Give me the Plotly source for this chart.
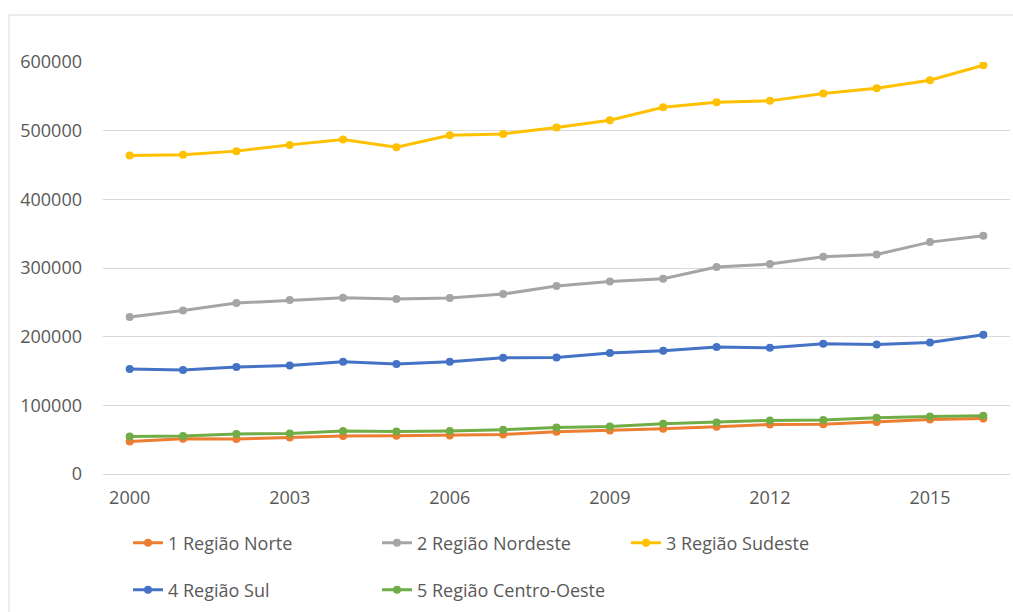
import plotly.graph_objects as go

# Anos da série
years = list(range(2000, 2017))

# Valores por região
norte = [47500, 51400, 50900, 53300, 55300, 55800, 56200, 57600, 61600, 63500,
         65900, 68900, 72200, 72500, 75700, 79500, 80900]
nordeste = [228500, 238100, 248900, 253300, 256600, 254700, 256200, 262000, 273700, 280300,
            284300, 301300, 305700, 316300, 319700, 337700, 346900]
sudeste = [463800, 464800, 470200, 479300, 487000, 476000, 493400, 495300, 504500, 515300,
           534200, 541500, 543400, 554000, 561900, 573500, 595300]
sul = [152800, 151400, 155700, 158100, 163500, 160100, 163500, 169300, 169700, 176100,
       179500, 184900, 183800, 189700, 188600, 191600, 202800]
centro_oeste = [54700, 55300, 58200, 59100, 62600, 62000, 62600, 64500, 67800, 69300,
                73200, 75100, 78000, 78600, 82000, 83800, 84900]

series_names = ["1 Região Norte", "2 Região Nordeste", "3 Região Sudeste",
                "4 Região Sul", "5 Região Centro-Oeste"]
series_values = [norte, nordeste, sudeste, sul, centro_oeste]
series_colors = ["#ED7D31", "#A5A5A5", "#FFC000", "#4472C4", "#70AD47"]
series_legend = ["legend", "legend", "legend", "legend2", "legend2"]

W, H = 1013, 612
FONT = "Open Sans"
TXT = "#595959"

fig = go.Figure()
for name, vals, col, lg in zip(series_names, series_values, series_colors, series_legend):
    fig.add_trace(go.Scatter(
        x=years, y=vals, name=name, mode="lines+markers",
        line=dict(color=col, width=3),
        marker=dict(color=col, size=8),
        legend=lg,
    ))

legend_common = dict(
    orientation="h", xref="container", yref="container",
    xanchor="left", yanchor="middle",
    entrywidth=204, entrywidthmode="pixels",
    font=dict(family=FONT, size=18, color=TXT),
    bgcolor="rgba(0,0,0,0)", itemclick=False, itemdoubleclick=False,
)

fig.update_layout(
    width=W, height=H,
    margin=dict(l=103, r=3, t=62, b=138),
    paper_bgcolor="white", plot_bgcolor="white",
    font=dict(family=FONT, color=TXT),
    showlegend=True,
    legend=dict(x=128 / W, y=1 - 543 / H, **legend_common),
    legend2=dict(x=128 / W, y=1 - 590 / H, **legend_common),
    xaxis=dict(
        range=[1999.5, 2016.5], tickmode="linear", tick0=2000, dtick=3,
        showgrid=False, zeroline=False, showline=False, ticks="",
        tickfont=dict(family=FONT, size=18, color=TXT),
        ticklabelstandoff=11,
    ),
    yaxis=dict(
        range=[0, 600000], tickmode="linear", tick0=0, dtick=100000,
        showgrid=True, gridcolor="#D9D9D9", gridwidth=1,
        zeroline=True, zerolinecolor="#D9D9D9", zerolinewidth=1,
        showline=False, ticks="", tickformat="d",
        tickfont=dict(family=FONT, size=18, color=TXT),
        ticklabelstandoff=20,
    ),
    shapes=[
        # moldura do gráfico (borda superior e esquerda)
        dict(type="line", xref="paper", yref="paper",
             x0=(9 - 103) / 907, x1=(1013 - 103) / 907,
             y0=(474 - 15) / 412, y1=(474 - 15) / 412,
             line=dict(color="#D9D9D9", width=1)),
        dict(type="line", xref="paper", yref="paper",
             x0=(9 - 103) / 907, x1=(9 - 103) / 907,
             y0=(474 - 15) / 412, y1=(474 - 620) / 412,
             line=dict(color="#D9D9D9", width=1)),
    ],
)

fig.write_html("out.html")
